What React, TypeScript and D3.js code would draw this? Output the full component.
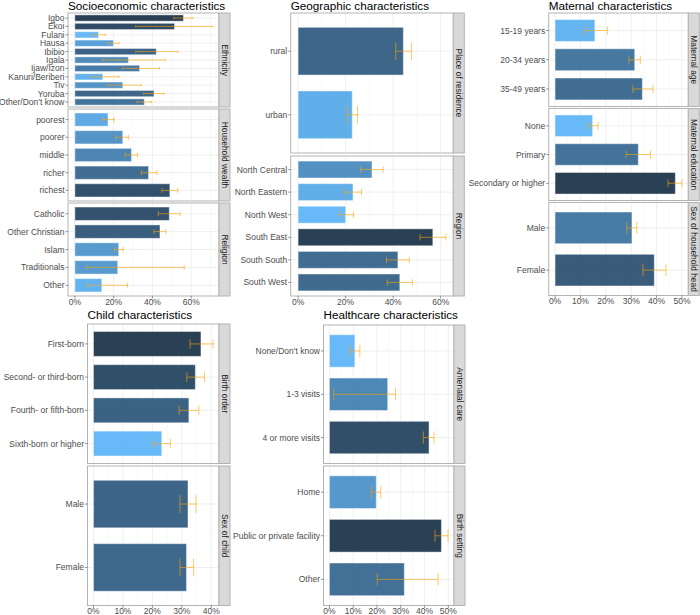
import React from 'react'
import * as d3 from 'd3'

// Socioeconomic characteristics
const ethnicityCats = ['Igbo', 'Ekoi', 'Fulani', 'Hausa', 'Ibibio', 'Igala', 'Ijaw/Izon', 'Kanuri/Beriberi', 'Tiv', 'Yoruba', "Other/Don't know"]
const ethnicityEst = [56.0, 51.4, 12.2, 19.9, 42.0, 27.6, 33.4, 14.4, 24.7, 40.8, 35.8]
const ethnicityLo = [51.0, 31.4, 8.6, 17.0, 31.4, 14.0, 24.5, 8.6, 16.6, 35.5, 32.0]
const ethnicityHi = [60.8, 70.8, 16.0, 22.8, 53.1, 46.6, 43.7, 22.8, 34.4, 45.9, 39.4]

const wealthCats = ['poorest', 'poorer', 'middle', 'richer', 'richest']
const wealthEst = [17.1, 24.7, 29.2, 38.0, 49.0]
const wealthLo = [14.4, 21.2, 25.9, 34.3, 44.9]
const wealthHi = [20.2, 27.6, 32.4, 42.3, 53.1]

const religionCats = ['Catholic', 'Other Christian', 'Islam', 'Traditionals', 'Other']
const religionEst = [48.7, 43.9, 22.6, 22.1, 13.9]
const religionLo = [43.0, 40.8, 20.4, 5.8, 6.2]
const religionHi = [54.3, 46.9, 25.0, 56.4, 27.2]

// Geographic characteristics
const residenceCats = ['rural', 'urban']
const residenceEst = [44.3, 22.8]
const residenceLo = [41.1, 20.8]
const residenceHi = [47.7, 25.0]

const regionCats = ['North Central', 'North Eastern', 'North West', 'South East', 'South South', 'South West']
const regionEst = [31.1, 23.1, 20.0, 56.7, 42.0, 42.8]
const regionLo = [26.3, 19.6, 17.4, 51.3, 37.2, 37.5]
const regionHi = [35.8, 26.7, 23.3, 62.2, 46.8, 48.1]

// Maternal characteristics
const ageCats = ['15-19 years', '20-34 years', '35-49 years']
const ageEst = [15.7, 31.4, 34.4]
const ageLo = [11.7, 29.1, 30.7]
const ageHi = [20.7, 33.6, 38.6]

const eduCats = ['None', 'Primary', 'Secondary or higher']
const eduEst = [14.8, 32.8, 47.4]
const eduLo = [12.9, 28.0, 44.5]
const eduHi = [16.9, 37.6, 50.0]

const headCats = ['Male', 'Female']
const headEst = [30.3, 39.1]
const headLo = [28.3, 34.6]
const headHi = [32.2, 43.7]

// Child characteristics
const birthOrderCats = ['First-born', 'Second- or third-born', 'Fourth- or fifth-born', 'Sixth-born or higher']
const birthOrderEst = [36.5, 34.6, 32.4, 23.2]
const birthOrderLo = [32.8, 31.7, 29.1, 20.3]
const birthOrderHi = [40.6, 37.7, 35.8, 26.1]

const childSexCats = ['Male', 'Female']
const childSexEst = [32.1, 31.6]
const childSexLo = [29.4, 29.4]
const childSexHi = [34.8, 34.0]

// Healthcare characteristics
const ancCats = ["None/Don't know", '1-3 visits', '4 or more visits']
const ancEst = [10.7, 24.5, 41.9]
const ancLo = [8.6, 1.8, 39.5]
const ancHi = [12.8, 27.8, 44.0]

const settingCats = ['Home', 'Public or private facility', 'Other']
const settingEst = [19.7, 47.1, 31.5]
const settingLo = [17.6, 44.4, 20.1]
const settingHi = [21.6, 49.9, 45.7]

const ticks60 = [0, 20, 40, 60]
const ticks50 = [0, 10, 20, 30, 40, 50]
const ticks40 = [0, 10, 20, 30, 40]

const FONT = '"Liberation Sans", Arial, Helvetica, sans-serif'
const AXIS = '#4D4D4D'
const BORDER = '#B3B3B3'
const STRIP = 11

interface Facet {
    label: string
    cats: string[]
    est: number[]
    lo: number[]
    hi: number[]
}

interface PanelProps {
    title: string
    facets: Facet[]
    left: number
    right: number
    bounds: [number, number][]
    ticks: number[]
    titleY: number
}

function Panel({ title, facets, left, right, bounds, ticks, titleY }: PanelProps) {
    const allEst = facets.flatMap(f => f.est)
    const maxHi = d3.max(facets.flatMap(f => f.hi)) || 0
    const dom: [number, number] = [-0.05 * maxHi, 1.05 * maxHi]

    const x = d3.scaleLinear().domain(dom).range([left, right])

    // ggplot-style continuous fill, darker for higher values
    const fill = d3.scaleLinear<string>()
        .domain(d3.extent(allEst) as [number, number])
        .range(['#56B1F7', '#132B43'])
        .interpolate(d3.interpolateLab)

    const step = ticks[1] - ticks[0]
    const minor = ticks.map(t => t + step / 2).filter(v => v > dom[0] && v < dom[1])
    const axisBottom = bounds[bounds.length - 1][1]

    return (
        <g>
            <text x={left} y={titleY} fontSize={11.7} fill="#000">{title}</text>
            {facets.map((f, fi) => {
                const [top, bottom] = bounds[fi]
                const y = d3.scalePoint<string>().domain(f.cats).range([top, bottom]).padding(0.6)
                const unit = y.step()
                const barH = unit * 0.75
                const capH = unit * 0.28
                return (
                    <g key={f.label}>
                        <rect x={left} y={top} width={right - left} height={bottom - top} fill="#fff" />
                        {minor.map(v => (
                            <line key={'m' + v} x1={x(v)} x2={x(v)} y1={top} y2={bottom} stroke="#F2F2F2" strokeWidth={0.5} />
                        ))}
                        {ticks.map(v => (
                            <line key={'M' + v} x1={x(v)} x2={x(v)} y1={top} y2={bottom} stroke="#EBEBEB" strokeWidth={0.8} />
                        ))}
                        {f.cats.map(c => (
                            <line key={'h' + c} x1={left} x2={right} y1={y(c)} y2={y(c)} stroke="#EBEBEB" strokeWidth={0.8} />
                        ))}
                        {f.cats.map((c, i) => (
                            <rect key={'b' + c} x={x(0)} y={(y(c) || 0) - barH / 2}
                                width={x(f.est[i]) - x(0)} height={barH}
                                fill={fill(f.est[i])} fillOpacity={0.9}
                                stroke="#fff" strokeOpacity={0.45} strokeWidth={1} />
                        ))}
                        {f.cats.map((c, i) => {
                            const cy = y(c) || 0
                            return (
                                <g key={'e' + c} stroke="#FFA500" strokeOpacity={0.6} strokeWidth={1}>
                                    <line x1={x(f.lo[i])} x2={x(f.hi[i])} y1={cy} y2={cy} />
                                    <line x1={x(f.lo[i])} x2={x(f.lo[i])} y1={cy - capH / 2} y2={cy + capH / 2} />
                                    <line x1={x(f.hi[i])} x2={x(f.hi[i])} y1={cy - capH / 2} y2={cy + capH / 2} />
                                </g>
                            )
                        })}
                        <rect x={left} y={top} width={right - left} height={bottom - top} fill="none" stroke={BORDER} strokeWidth={1} />
                        <rect x={right} y={top} width={STRIP} height={bottom - top} fill="#D9D9D9" stroke={BORDER} strokeWidth={1} />
                        <text transform={`translate(${right + STRIP / 2},${(top + bottom) / 2}) rotate(90)`}
                            textAnchor="middle" dominantBaseline="central" fontSize={8.4} fill="#1A1A1A">{f.label}</text>
                        {f.cats.map(c => (
                            <g key={'y' + c}>
                                <line x1={left - 2.5} x2={left} y1={y(c)} y2={y(c)} stroke={AXIS} strokeWidth={0.6} />
                                <text x={left - 3.5} y={y(c)} textAnchor="end" dominantBaseline="central" fontSize={8.5} fill={AXIS}>{c}</text>
                            </g>
                        ))}
                    </g>
                )
            })}
            {ticks.map(v => (
                <g key={'x' + v}>
                    <line x1={x(v)} x2={x(v)} y1={axisBottom} y2={axisBottom + 2.5} stroke={AXIS} strokeWidth={0.6} />
                    <text x={x(v)} y={axisBottom + 8.6} textAnchor="middle" fontSize={8.5} fill={AXIS}>{v + '%'}</text>
                </g>
            ))}
        </g>
    )
}

export default function App() {
    const socio: Facet[] = [
        { label: 'Ethnicity', cats: ethnicityCats, est: ethnicityEst, lo: ethnicityLo, hi: ethnicityHi },
        { label: 'Household wealth', cats: wealthCats, est: wealthEst, lo: wealthLo, hi: wealthHi },
        { label: 'Religion', cats: religionCats, est: religionEst, lo: religionLo, hi: religionHi },
    ]
    const geo: Facet[] = [
        { label: 'Place of residence', cats: residenceCats, est: residenceEst, lo: residenceLo, hi: residenceHi },
        { label: 'Region', cats: regionCats, est: regionEst, lo: regionLo, hi: regionHi },
    ]
    const maternal: Facet[] = [
        { label: 'Maternal age', cats: ageCats, est: ageEst, lo: ageLo, hi: ageHi },
        { label: 'Maternal education', cats: eduCats, est: eduEst, lo: eduLo, hi: eduHi },
        { label: 'Sex of household head', cats: headCats, est: headEst, lo: headLo, hi: headHi },
    ]
    const child: Facet[] = [
        { label: 'Birth order', cats: birthOrderCats, est: birthOrderEst, lo: birthOrderLo, hi: birthOrderHi },
        { label: 'Sex of child', cats: childSexCats, est: childSexEst, lo: childSexLo, hi: childSexHi },
    ]
    const health: Facet[] = [
        { label: 'Antenatal care', cats: ancCats, est: ancEst, lo: ancLo, hi: ancHi },
        { label: 'Birth setting', cats: settingCats, est: settingEst, lo: settingLo, hi: settingHi },
    ]

    return (
        <svg width={700} height={615} viewBox="0 0 700 615"
            style={{ position: 'absolute', left: 0, top: 0, background: '#fff', fontFamily: FONT }}>
            <rect width={700} height={615} fill="#fff" />
            <Panel title="Socioeconomic characteristics" facets={socio} left={68} right={219}
                bounds={[[13, 107], [109, 201], [203, 296]]} ticks={ticks60} titleY={9.5} />
            <Panel title="Geographic characteristics" facets={geo} left={290.7} right={453.3}
                bounds={[[13, 153], [156, 296]]} ticks={ticks60} titleY={9.5} />
            <Panel title="Maternal characteristics" facets={maternal} left={548.7} right={688.3}
                bounds={[[13, 106.5], [108.5, 200.5], [202.5, 295.5]]} ticks={ticks50} titleY={9.5} />
            <Panel title="Child characteristics" facets={child} left={87.5} right={219}
                bounds={[[324, 463.5], [466, 605.5]]} ticks={ticks40} titleY={318.5} />
            <Panel title="Healthcare characteristics" facets={health} left={323.5} right={454}
                bounds={[[325, 463.5], [466, 605.5]]} ticks={ticks50} titleY={318.5} />
        </svg>
    )
}
